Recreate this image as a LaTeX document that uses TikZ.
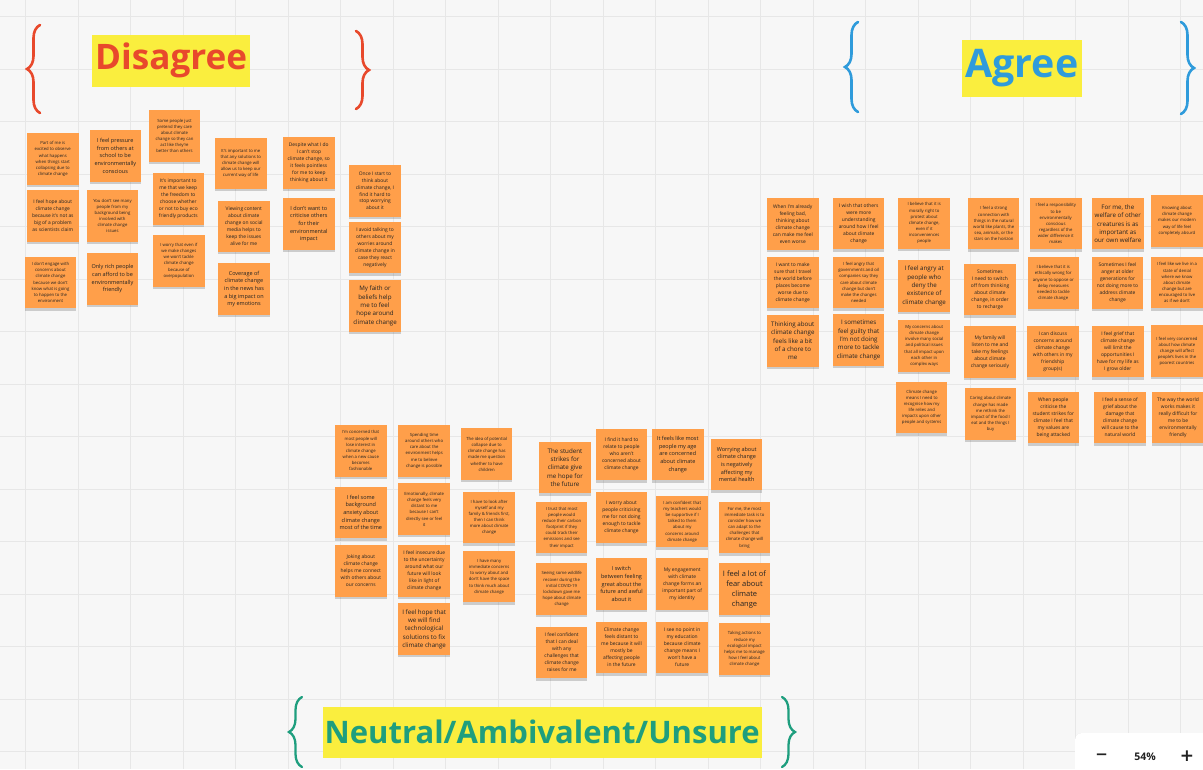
\documentclass[tikz,border=0pt]{standalone}
\usepackage{fontspec}
\setmainfont{Open Sans}
\newfontfamily\symfont{DejaVu Sans}
\usetikzlibrary{shadows,decorations.pathreplacing}

\definecolor{bgc}{HTML}{F7F7F7}
\definecolor{gridc}{HTML}{E7E7E7}
\definecolor{notec}{HTML}{FF9F4A}
\definecolor{notetext}{HTML}{222222}
\definecolor{hlc}{HTML}{FAEE3E}
\definecolor{redc}{HTML}{E8492C}
\definecolor{bluec}{HTML}{2F9BDB}
\definecolor{greenc}{HTML}{1E9E7E}

\begin{document}
\begin{tikzpicture}[x=1pt,y=-1pt,
  note/.style={fill=notec, minimum width=51.5pt, minimum height=51.5pt,
    inner sep=1pt, align=center, text=notetext,
    drop shadow={shadow xshift=0pt, shadow yshift=-2.4pt, opacity=0.25, fill=black!70}},
  ft/.style={font=\fontsize{4.25}{6.15}\selectfont},
  fs/.style={font=\fontsize{4.9}{6.95}\selectfont},
  fm/.style={font=\fontsize{5.5}{7.7}\selectfont},
  fl/.style={font=\fontsize{6.2}{8.3}\selectfont},
  fx/.style={font=\fontsize{7.5}{10}\selectfont},
  title/.style={fill=hlc, inner sep=0pt, font=\bfseries},
  bracket/.style={line width=2.6pt, line cap=round, decorate,
    decoration={brace, amplitude=13pt}}]

\useasboundingbox (0,0) rectangle (1203,769);
\clip (0,0) rectangle (1203,769);

% board background and grid
\fill[bgc] (0,0) rectangle (1203,769);
\foreach \gx in {25.5,78,...,1203} \draw[gridc, line width=0.7pt] (\gx,0) -- (\gx,769);
\foreach \gy in {16.7,69.2,...,769} \draw[gridc, line width=0.7pt] (0,\gy) -- (1203,\gy);

% headings
\node[title, minimum width=158pt, minimum height=52pt] (hdis) at (171.2,60.8)
  {\resizebox{152pt}{!}{\color{redc}Disagree}};
\node[title, minimum width=120pt, minimum height=57pt] (hagr) at (1022,68.5)
  {\resizebox{113pt}{!}{\color{bluec}Agree}};
\node[title, minimum width=439pt, minimum height=51pt] (hneu) at (542.2,732)
  {\resizebox{435pt}{!}{\color{greenc}Neutral/Ambivalent/Unsure}};

% braces around the headings
\draw[bracket, redc] (40,113) -- (40,25);
\draw[bracket, redc] (356,31) -- (356,109);
\draw[bracket, bluec] (858,112) -- (858,22);
\draw[bracket, bluec] (1181,22) -- (1181,114);
\draw[bracket, greenc, line width=2.3pt] (302,767) -- (302,697);
\draw[bracket, greenc, line width=2.3pt] (782,697) -- (782,767);

% Disagree
\node[note,ft] (d1) at (52.8,159) {Part of me is\\excited to observe\\what happens\\when things start\\collapsing due to\\climate change};
\node[note,fm] (d2) at (115.3,155.8) {I feel pressure\\from others at\\school to be\\environmentally\\conscious};
\node[note,fs] (d3) at (52.8,215.8) {I feel hope about\\climate change\\because it's not as\\big of a problem\\as scientists claim};
\node[note,ft] (d4) at (112.5,215.8) {You don't see many\\people from my\\background being\\involved with\\climate change\\issues};
\node[note,ft] (d5) at (50.5,282.5) {I don't engage with\\concerns about\\climate change\\because we don't\\know what is going\\to happen to the\\environment};
\node[note,fm] (d6) at (112.5,279) {Only rich people\\can afford to be\\environmentally\\friendly};
\node[note,ft] (d7) at (174.5,135.8) {Some people just\\pretend they care\\about climate\\change so they can\\act like they're\\better than others};
\node[note,ft] (d8) at (240.8,163.3) {It's important to me\\that any solutions to\\climate change will\\allow us to keep our\\current way of life};
\node[note,fs] (d9) at (178.3,199) {It's important to\\me that we keep\\the freedom to\\choose whether\\or not to buy eco\\friendly products};
\node[note,fs] (d10) at (243.8,226.3) {Viewing content\\about climate\\change on social\\media helps to\\keep the issues\\alive for me};
\node[note,ft] (d11) at (178.8,260.8) {I worry that even if\\we make changes\\we won't tackle\\climate change\\because of\\overpopulation};
\node[note,fm] (d12) at (244,289) {Coverage of\\climate change\\in the news has\\a big impact on\\my emotions};
\node[note,fs] (d13) at (308.8,163) {Despite what I do\\I can't stop\\climate change, so\\it feels pointless\\for me to keep\\thinking about it};
\node[note,fm] (d14) at (308.8,224) {I don't want to\\criticise others\\for their\\environmental\\impact};
\node[note,fs] (d15) at (375,190.8) {Once I start to\\think about\\climate change, I\\find it hard to\\stop worrying\\about it};
\node[note,fs] (d16) at (375,247.5) {I avoid talking to\\others about my\\worries around\\climate change in\\case they react\\negatively};
\node[note,fl] (d17) at (375,305.8) {My faith or\\beliefs help\\me to feel\\hope around\\climate change};

% Agree
\node[note,fs] (a1) at (792.8,224.2) {When I'm already\\feeling bad,\\thinking about\\climate change\\can make me feel\\even worse};
\node[note,fs] (a2) at (858.7,223.7) {I wish that others\\were more\\understanding\\around how I feel\\about climate\\change};
\node[note,fs] (a3) at (792.8,282.5) {I want to make\\sure that I travel\\the world before\\places become\\worse due to\\climate change};
\node[note,ft] (a4) at (858.7,282.5) {I feel angry that\\governments and oil\\companies say they\\care about climate\\change but don't\\make the changes\\needed};
\node[note,fl] (a5) at (792.8,340.8) {Thinking about\\climate change\\feels like a bit\\of a chore to\\me};
\node[note,fl] (a6) at (858.7,340) {I sometimes\\feel guilty that\\I'm not doing\\more to tackle\\climate change};
\node[note,ft] (a7) at (924.2,223.3) {I believe that it is\\morally right to\\protest about\\climate change,\\even if it\\inconveniences\\people};
\node[note,ft] (a8) at (993.7,223.7) {I feel a strong\\connection with\\things in the natural\\world like plants, the\\sea, animals, or the\\stars on the horizon};
\node[note,fl] (a9) at (924.2,285.8) {I feel angry at\\people who\\deny the\\existence of\\climate change};
\node[note,fs] (a10) at (990,289.7) {Sometimes\\I need to switch\\off from thinking\\about climate\\change, in order\\to recharge};
\node[note,ft] (a11) at (924.2,345.8) {My concerns about\\climate change\\involve many social\\and political issues\\that all impact upon\\each other in\\complex ways};
\node[note,fs] (a12) at (990,352.2) {My family will\\listen to me and\\take my feelings\\about climate\\change seriously};
\node[note,ft] (a13) at (921.7,407.5) {Climate change\\means I need to\\recognise how my\\life relies and\\impacts upon other\\people and systems};
\node[note,ft] (a14) at (990.5,414.2) {Caring about climate\\change has made\\me rethink the\\impact of the food I\\eat and the things I\\buy};
\node[note,ft] (a15) at (1055.8,223.7) {I feel a responsibility\\to be\\environmentally\\conscious\\regardless of the\\wider difference it\\makes};
\node[note,fl] (a16) at (1117.8,223.7) {For me, the\\welfare of other\\creatures is as\\important as\\our own welfare};
\node[note,ft] (a17) at (1177,220.8) {Knowing about\\climate change\\makes our modern\\way of life feel\\completely absurd};
\node[note,ft] (a18) at (1053.3,283) {I believe that it is\\ethically wrong for\\anyone to oppose or\\delay measures\\needed to tackle\\climate change};
\node[note,fs] (a19) at (1117.5,283) {Sometimes I feel\\anger at older\\generations for\\not doing more to\\address climate\\change};
\node[note,ft] (a20) at (1177,282.7) {I feel like we live in a\\state of denial\\where we know\\about climate\\change but are\\encouraged to live\\as if we don't};
\node[note,fs] (a21) at (1052.8,351.7) {I can discuss\\concerns around\\climate change\\with others in my\\friendship\\group(s)};
\node[note,fs] (a22) at (1117.8,351.7) {I feel grief that\\climate change\\will limit the\\opportunities I\\have for my life as\\I grow older};
\node[note,ft] (a23) at (1177,351.2) {I feel very concerned\\about how climate\\change will affect\\people's lives in the\\poorest countries};
\node[note,fs] (a24) at (1053.3,417.5) {When people\\criticise the\\student strikes for\\climate I feel that\\my values are\\being attacked};
\node[note,fs] (a25) at (1120,417.5) {I feel a sense of\\grief about the\\damage that\\climate change\\will cause to the\\natural world};
\node[note,fs] (a26) at (1178,417.5) {The way the world\\works makes it\\really difficult for\\me to be\\environmentally\\friendly};

% Neutral / ambivalent / unsure
\node[note,ft] (u1) at (360.8,450.8) {I'm concerned that\\most people will\\lose interest in\\climate change\\when a new cause\\becomes\\fashionable};
\node[note,ft] (u2) at (424.2,450.8) {Spending time\\around others who\\care about the\\environment helps\\me to believe\\change is possible};
\node[note,fm] (u3) at (360.8,512.5) {I feel some\\background\\anxiety about\\climate change\\most of the time};
\node[note,ft] (u4) at (424.2,509.2) {Emotionally, climate\\change feels very\\distant to me\\because I can't\\directly see or feel\\it};
\node[note,fs] (u5) at (360.8,570.8) {Joking about\\climate change\\helps me connect\\with others about\\our concerns};
\node[note,fs] (u6) at (424.2,570.8) {I feel insecure due\\to the uncertainty\\around what our\\future will look\\like in light of\\climate change};
\node[note,fl] (u7) at (424.2,629.2) {I feel hope that\\we will find\\technological\\solutions to fix\\climate change};
\node[note,ft] (u8) at (486.7,454.2) {The idea of potential\\collapse due to\\climate change has\\made me question\\whether to have\\children};
\node[note,ft] (u9) at (489.2,517.5) {I have to look after\\myself and my\\family \& friends first,\\then I can think\\more about climate\\change};
\node[note,ft] (u10) at (489.2,576.7) {I have many\\immediate concerns\\to worry about and\\don't have the space\\to think much about\\climate change};
\node[note,fl] (u11) at (565,467.5) {The student\\strikes for\\climate give\\me hope for\\the future};
\node[note,ft] (u12) at (561.7,527.5) {I trust that most\\people would\\reduce their carbon\\footprint if they\\could track their\\emissions and see\\their impact};
\node[note,ft] (u13) at (561.7,589.2) {Seeing some wildlife\\recover during the\\initial COVID-19\\lockdown gave me\\hope about climate\\change};
\node[note,fs] (u14) at (561.7,652.5) {I feel confident\\that I can deal\\with any\\challenges that\\climate change\\raises for me};
\node[note,fs] (u15) at (621.5,454.5) {I find it hard to\\relate to people\\who aren't\\concerned about\\climate change};
\node[note,fm] (u16) at (677.8,454.5) {It feels like most\\people my age\\are concerned\\about climate\\change};
\node[note,fm] (u17) at (736.7,464.5) {Worrying about\\climate change\\is negatively\\affecting my\\mental health};
\node[note,fs] (u18) at (621.5,517.5) {I worry about\\people criticising\\me for not doing\\enough to tackle\\climate change};
\node[note,ft] (u19) at (682.2,521.7) {I am confident that\\my teachers would\\be supportive if I\\talked to them\\about my\\concerns around\\climate change};
\node[note,ft] (u20) at (744.5,527.5) {For me, the most\\immediate task is to\\consider how we\\can adapt to the\\challenges that\\climate change will\\bring};
\node[note,fm] (u21) at (621.5,584.2) {I switch\\between feeling\\great about the\\future and awful\\about it};
\node[note,fs] (u22) at (682.2,584.2) {My engagement\\with climate\\change forms an\\important part of\\my identity};
\node[note,fx] (u23) at (744.5,589.2) {I feel a lot of\\fear about\\climate\\change};
\node[note,fs] (u24) at (621.5,647.5) {Climate change\\feels distant to\\me because it will\\mostly be\\affecting people\\in the future};
\node[note,fs] (u25) at (682.2,647.5) {I see no point in\\my education\\because climate\\change means I\\won't have a\\future};
\node[note,ft] (u26) at (744.5,649.2) {Taking actions to\\reduce my\\ecological impact\\helps me to manage\\how I feel about\\climate change};

% zoom control panel
\node[fill=white, rounded corners=6pt, minimum width=150pt, minimum height=50pt,
  anchor=north west, drop shadow={shadow xshift=0pt, shadow yshift=0pt, opacity=0.08, fill=black}]
  (zpanel) at (1075,733) {};
\node[text=notetext] (zminus) at (1101.7,756.5) {\symfont\bfseries\fontsize{15}{15}\selectfont −};
\node[text=notetext] (zpct) at (1145,757) {\bfseries\fontsize{10.5}{12}\selectfont 54\%};
\node[text=notetext] (zplus) at (1187,756.5) {\symfont\bfseries\fontsize{17}{17}\selectfont +};
\end{tikzpicture}
\end{document}
